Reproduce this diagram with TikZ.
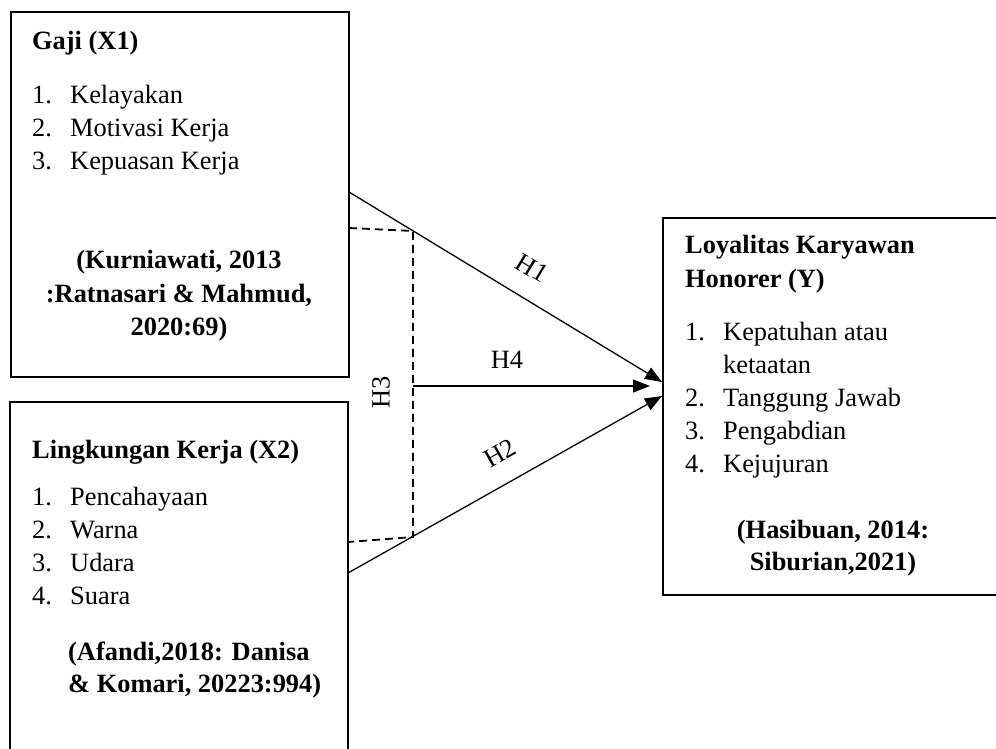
\documentclass[tikz,border=0pt]{standalone}
\usepackage{fontspec}
\setmainfont{Liberation Serif}
\usetikzlibrary{arrows.meta,
                positioning
            }

\tikzset{
    varbox/.style={draw, line width=2.8pt, inner sep=0pt},
    txt/.style={anchor=base west, inner sep=0pt, font=\fontsize{26.4}{33}\selectfont},
    head/.style={txt, font=\fontsize{26.4}{33}\selectfont\bfseries},
    cite/.style={anchor=base, inner sep=0pt, font=\fontsize{26.4}{33}\selectfont\bfseries},
    hyp/.style={line width=1.3pt, -{Triangle[length=17pt, width=13pt]}},
    joint/.style={line width=1.8pt, dash pattern=on 8pt off 5pt},
    hlabel/.style={inner sep=0pt, font=\fontsize{26.4}{30}\selectfont}
}

\begin{document}
\begin{tikzpicture}[x=1pt, y=-1pt]
            \useasboundingbox (0,0) rectangle (996,749);
            \clip (0,0) rectangle (996,749);

            % boxes
            \node[varbox, minimum width=338pt, minimum height=365pt] (gaji) at (180,194.5) {};
            \node[varbox, minimum width=338pt, minimum height=380pt] (ling) at (179,592) {};
            \node[varbox, minimum width=400pt, minimum height=377pt] (loyal) at (863,406.5) {};

            % Gaji (X1)
            \node[head] (gajiT) at (32,50) {Gaji (X1)};
            \node[txt] (g1n) at (32,104) {1.};
            \node[txt] (g1) at (70,104) {Kelayakan};
            \node[txt] (g2n) at (32,137) {2.};
            \node[txt] (g2) at (70,137) {Motivasi Kerja};
            \node[txt] (g3n) at (32,170) {3.};
            \node[txt] (g3) at (70,170) {Kepuasan Kerja};
            \node[cite] (gajiR1) at (179,268) {(Kurniawati, 2013};
            \node[cite] (gajiR2) at (179,302) {:Ratnasari \& Mahmud,};
            \node[cite] (gajiR3) at (179,335) {2020:69)};

            % Lingkungan Kerja (X2)
            \node[head] (lingT) at (32,458) {Lingkungan Kerja (X2)};
            \node[txt] (l1n) at (32,505) {1.};
            \node[txt] (l1) at (70,505) {Pencahayaan};
            \node[txt] (l2n) at (32,538) {2.};
            \node[txt] (l2) at (70,538) {Warna};
            \node[txt] (l3n) at (32,571) {3.};
            \node[txt] (l3) at (70,571) {Udara};
            \node[txt] (l4n) at (32,604) {4.};
            \node[txt] (l4) at (70,604) {Suara};
            \node[head] (lingR1) at (68,660) {(Afandi,2018: Danisa};
            \node[head] (lingR2) at (68,692) {\& Komari, 20223:994)};

            % Loyalitas Karyawan Honorer (Y)
            \node[head] (loyalT1) at (685,253) {Loyalitas Karyawan};
            \node[head] (loyalT2) at (685,287) {Honorer (Y)};
            \node[txt] (y1n) at (685,340) {1.};
            \node[txt] (y1) at (723,340) {Kepatuhan atau};
            \node[txt] (y1b) at (723,373) {ketaatan};
            \node[txt] (y2n) at (685,406) {2.};
            \node[txt] (y2) at (723,406) {Tanggung Jawab};
            \node[txt] (y3n) at (685,439) {3.};
            \node[txt] (y3) at (723,439) {Pengabdian};
            \node[txt] (y4n) at (685,472) {4.};
            \node[txt] (y4) at (723,472) {Kejujuran};
            \node[cite] (loyalR1) at (833,538) {(Hasibuan, 2014:};
            \node[cite] (loyalR2) at (833,570) {Siburian,2021)};

            % ends of the connectors
            \coordinate (h1s) at (349,192);
            \coordinate (h1e) at (662,382);
            \coordinate (h2s) at (348,573);
            \coordinate (h2e) at (662,396);
            \coordinate (h4s) at (413,386);
            \coordinate (h4e) at (650,386);
            \coordinate (j1) at (349,228);
            \coordinate (j2) at (413,231);
            \coordinate (j3) at (413,537);
            \coordinate (j4) at (348,542);

            \draw[joint] (j1) -- (j2) -- (j3) -- (j4);
            \draw[hyp] (h1s) -- (h1e);
            \draw[hyp] (h2s) -- (h2e);
            \draw[hyp] (h4s) -- (h4e);

            \node[hlabel, rotate=-31] (h1) at (532,268) {H1};
            \node[hlabel, rotate=29.5] (h2) at (500,453) {H2};
            \node[hlabel] (h4) at (507,360) {H4};
            \node[hlabel, rotate=90] (h3) at (381,392) {H3};
        \end{tikzpicture}
\end{document}
